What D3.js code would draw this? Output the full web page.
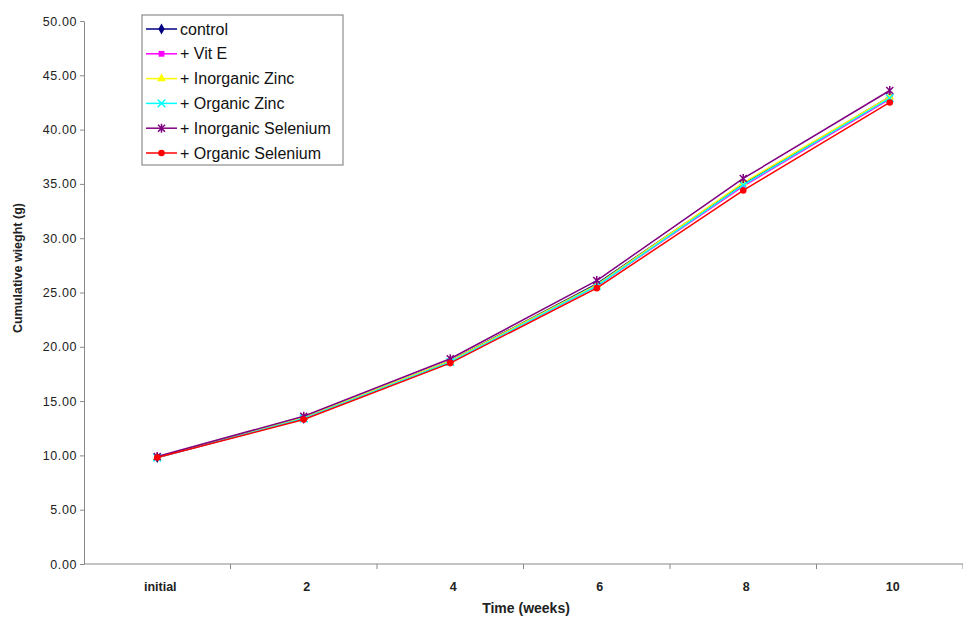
<!DOCTYPE html>
<html>
<head>
<meta charset="utf-8">
<script src="https://cdn.jsdelivr.net/npm/d3@7"></script>
<style>
  body { margin: 0; background: #fff; }
  svg { font-family: "Liberation Sans", Arial, sans-serif; }
</style>
</head>
<body>
<div id="chart"></div>
<script>
// weeks on the x axis
const weeks = ["initial", "2", "4", "6", "8", "10"]
const yTicks = [0, 5, 10, 15, 20, 25, 30, 35, 40, 45, 50]

// cumulative weight (g)
const control    = [9.8, 13.4, 18.7, 25.8, 35.0, 43.0]
const vitE       = [9.8, 13.4, 18.6, 25.6, 34.8, 42.8]
const inorgZinc  = [9.8, 13.5, 18.7, 25.7, 35.1, 43.0]
const orgZinc    = [9.8, 13.4, 18.6, 25.6, 34.9, 42.9]
const inorgSel   = [9.9, 13.6, 18.9, 26.1, 35.5, 43.6]
const orgSel     = [9.8, 13.3, 18.5, 25.4, 34.4, 42.5]

const seriesNames = ["control", "+ Vit E", "+ Inorganic Zinc", "+ Organic Zinc", "+ Inorganic Selenium", "+ Organic Selenium"]
const seriesValues = [control, vitE, inorgZinc, orgZinc, inorgSel, orgSel]
const colors = ["#000080", "#ff00ff", "#ffff00", "#00ffff", "#800080", "#ff0000"]
const symbols = ["diamond", "square", "triangle", "x", "star", "circle"]

const width = 963
const height = 620
const margin = {top: 21, right: 0, bottom: 56, left: 84}

let svg = d3.select("#chart")
  .append("svg")
  .attr("width", width)
  .attr("height", height)

let x = d3.scaleBand()
  .domain(weeks)
  .range([margin.left, width - margin.right])

let y = d3.scaleLinear()
  .domain([0, 50])
  .range([height - margin.bottom, margin.top])

// x axis: ticks sit on band edges, like excel
let xAxis = svg.append("g")
  .attr("transform", "translate(0," + (height - margin.bottom) + ")")
xAxis.append("line")
  .attr("x1", margin.left).attr("x2", width - margin.right)
  .attr("stroke", "#888")
xAxis.selectAll(".tk")
  .data(weeks)
  .enter()
  .append("line")
  .attr("x1", d => x(d) + x.bandwidth())
  .attr("x2", d => x(d) + x.bandwidth())
  .attr("y2", 5)
  .attr("stroke", "#888")
xAxis.selectAll(".lbl")
  .data(weeks)
  .enter()
  .append("text")
  .attr("x", d => x(d) + x.bandwidth() / 2 + 3)
  .attr("y", 27)
  .attr("text-anchor", "middle")
  .attr("font-size", 12.5)
  .attr("font-weight", "bold")
  .attr("fill", "#222")
  .text(d => d)

let yAxis = d3.axisLeft(y)
  .tickValues(yTicks)
  .tickFormat(d3.format(".2f"))
  .tickSize(4)
  .tickSizeOuter(0)
svg.append("g")
  .attr("transform", "translate(" + margin.left + ",0)")
  .call(yAxis)
  .call(g => g.selectAll("path, line").attr("stroke", "#888"))
  .call(g => g.selectAll("text").attr("font-size", 12.5).attr("fill", "#222")
    .attr("letter-spacing", 0.6)
    .attr("font-family", "Liberation Sans, Arial, sans-serif"))

// axis titles
svg.append("text")
  .attr("x", 526)
  .attr("y", 613)
  .attr("text-anchor", "middle")
  .attr("font-size", 14)
  .attr("font-weight", "bold")
  .attr("fill", "#222")
  .text("Time (weeks)")

svg.append("text")
  .attr("transform", "translate(22," + 268 + ") rotate(-90)")
  .attr("text-anchor", "middle")
  .attr("font-size", 12.5)
  .attr("font-weight", "bold")
  .attr("fill", "#222")
  .text("Cumulative wieght (g)")

let line = d3.line()
  .x((d, i) => x(weeks[i]) + x.bandwidth() / 2)
  .y(d => y(d))

let symbolType = {
  diamond: d3.symbolDiamond, square: d3.symbolSquare, triangle: d3.symbolTriangle,
  x: d3.symbolX, circle: d3.symbolCircle
}

// asterisk-like marker for inorganic selenium
function markerPath(kind) {
  if (kind == "star") return "M-3.5,-3.5L3.5,3.5M-3.5,3.5L3.5,-3.5M0,-4.5L0,4.5"
  return d3.symbol().type(symbolType[kind]).size(kind == "x" ? 40 : 34)()
}

function drawMarker(g, kind, color) {
  let stroked = kind == "x" || kind == "star"
  g.append("path")
    .attr("d", markerPath(kind))
    .attr("fill", stroked ? "none" : color)
    .attr("stroke", color)
    .attr("stroke-width", stroked ? 1.5 : 0)
}

seriesValues.forEach((vals, s) => {
  svg.append("path")
    .datum(vals)
    .attr("d", line)
    .attr("fill", "none")
    .attr("stroke", colors[s])
    .attr("stroke-width", 1.5)

  svg.selectAll(".pt" + s)
    .data(vals)
    .enter()
    .append("g")
    .attr("transform", (d, i) => "translate(" + (x(weeks[i]) + x.bandwidth() / 2) + "," + y(d) + ")")
    .each(function() { drawMarker(d3.select(this), symbols[s], colors[s]) })
})

// legend
let legend = svg.append("g").attr("transform", "translate(142,15)")
legend.append("rect")
  .attr("width", 201)
  .attr("height", 150)
  .attr("fill", "#fff")
  .attr("stroke", "#777")

seriesNames.forEach((name, s) => {
  let ly = 14 + s * 24.8
  legend.append("line")
    .attr("x1", 4).attr("x2", 35)
    .attr("y1", ly).attr("y2", ly)
    .attr("stroke", colors[s])
    .attr("stroke-width", 1.5)
  let m = legend.append("g").attr("transform", "translate(19.5," + ly + ")")
  drawMarker(m, symbols[s], colors[s])
  legend.append("text")
    .attr("x", 38)
    .attr("y", ly + 5.5)
    .attr("font-size", 16)
    .attr("fill", "#111")
    .text(name)
})
</script>
</body>
</html>
